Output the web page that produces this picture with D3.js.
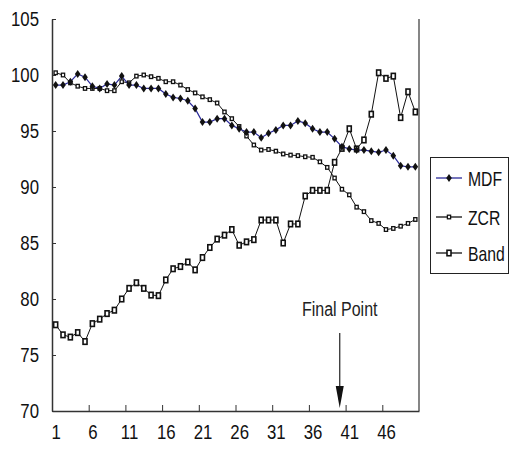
<!DOCTYPE html>
<html><head><meta charset="utf-8">
<script src="https://cdn.jsdelivr.net/npm/d3@7"></script>
<style>
html,body{margin:0;padding:0;background:#fff;}
svg{display:block;}
text{font-family:"Liberation Sans",Arial,sans-serif;}
</style></head>
<body>
<script>
const categories = d3.range(1, 51);
const mdf = [99.1,99.1,99.4,100.1,99.8,99.0,98.8,99.2,99.1,99.9,
             99.1,99.1,98.8,98.8,98.8,98.3,98.0,97.9,97.7,97.0,
             95.8,95.8,96.1,96.1,95.5,95.2,94.9,94.9,94.4,94.8,
             95.1,95.5,95.5,95.9,95.7,95.2,94.9,94.9,94.3,93.6,
             93.4,93.3,93.3,93.2,93.1,93.3,92.8,91.9,91.8,91.8];
const zcr = [100.2,100.0,99.3,99.0,98.8,98.8,98.8,98.6,98.6,99.4,
             99.3,99.9,100.0,99.85,99.7,99.4,99.4,99.1,98.7,98.4,
             98.05,97.8,97.5,96.7,96.1,95.4,94.55,93.75,93.3,93.35,
             93.2,92.95,92.85,92.8,92.7,92.65,92.25,91.75,90.8,89.8,
             89.3,88.2,87.8,87.0,86.75,86.2,86.3,86.5,86.75,87.1];
const band = [77.7,76.8,76.6,77.0,76.2,77.8,78.2,78.7,79.0,80.0,
              80.95,81.45,80.95,80.35,80.3,81.7,82.7,82.9,83.3,82.6,
              83.7,84.6,85.35,85.7,86.2,84.8,85.1,85.3,87.05,87.05,
              87.05,85.0,86.7,86.7,89.2,89.7,89.7,89.7,92.2,93.45,
              95.2,93.4,94.2,96.5,100.2,99.7,99.9,96.2,98.5,96.7];
const yTicks = [70,75,80,85,90,95,100,105];
const xTickLabels = [1,6,11,16,21,26,31,36,41,46];
const xTickMarks = [5.5,10.5,15.5,20.5,25.5,30.5,35.5,40.5,45.5];
const seriesNames = ["MDF","ZCR","Band"];
const finalPoint = 39.7;
const finalLabel = "Final Point";

const W = 510, H = 465;
const SX = 0.8;
const svg = d3.select("body").append("svg").attr("width", W).attr("height", H);
svg.append("rect").attr("width", W).attr("height", H).attr("fill", "#fff");

const x = d3.scaleLinear().domain([0.5, 50.5]).range([52, 419]);
const y = d3.scaleLinear().domain([70, 105]).range([411, 19]);

function narrow(sel, sx) {
  sel.each(function () {
    const t = d3.select(this);
    const xv = +(t.attr("x") || 0);
    t.attr("x", xv / sx).attr("transform", `scale(${sx},1)`);
  });
}
function ntext(parent, tx, ty, str, size, sx, anchor) {
  const g = parent.append("g").attr("transform", `translate(${tx},${ty}) scale(${sx},1)`);
  return g.append("text").attr("text-anchor", anchor || "start").attr("font-size", size)
    .attr("fill", "#111").text(str);
}

// right border of plot area
svg.append("line").attr("x1", x(50.5)).attr("x2", x(50.5)).attr("y1", y(105)).attr("y2", y(70))
  .attr("stroke", "#444").attr("stroke-width", 1.3);

// Y axis
const yAx = svg.append("g").attr("transform", "translate(52,0)")
  .call(d3.axisLeft(y).tickValues(yTicks).tickSize(-4).tickPadding(13).tickSizeOuter(0));
yAx.select(".domain").attr("stroke", "#333").attr("stroke-width", 1.5);
yAx.selectAll(".tick line").attr("stroke", "#333");
yAx.selectAll("text").attr("font-size", 21).attr("fill", "#111").attr("font-family", null);
narrow(yAx.selectAll("text"), SX);

// X axis ticks
const xAx = svg.append("g").attr("transform", "translate(0,411)")
  .call(d3.axisBottom(x).tickValues(xTickMarks).tickSize(-6).tickFormat("").tickSizeOuter(0));
xAx.select(".domain").attr("stroke", "#333").attr("stroke-width", 1.5);
xAx.selectAll(".tick line").attr("stroke", "#333");
// X labels
const xLab = svg.append("g").attr("transform", "translate(0,411)")
  .call(d3.axisBottom(x).tickValues(xTickLabels).tickSize(0).tickPadding(13).tickFormat(d3.format("d")));
xLab.select(".domain").remove();
xLab.selectAll("text").attr("font-size", 21).attr("fill", "#111").attr("font-family", null);
narrow(xLab.selectAll("text"), SX);

const line = d3.line().x((d, i) => x(categories[i])).y(d => y(d));

svg.append("path").datum(band).attr("d", line).attr("fill", "none").attr("stroke", "#111").attr("stroke-width", 1);
svg.append("path").datum(zcr).attr("d", line).attr("fill", "none").attr("stroke", "#111").attr("stroke-width", 1);
svg.append("path").datum(mdf).attr("d", line).attr("fill", "none").attr("stroke", "#2a2a9a").attr("stroke-width", 1.2);

function diamond(g, cx, cy) {
  g.append("path").attr("d", `M${cx},${cy-4}L${cx+2.8},${cy}L${cx},${cy+4}L${cx-2.8},${cy}Z`).attr("fill", "#111");
}
function square(g, cx, cy, w, h, sw) {
  g.append("rect").attr("x", cx - w/2).attr("y", cy - h/2).attr("width", w).attr("height", h)
    .attr("fill", "#fff").attr("stroke", "#111").attr("stroke-width", sw);
}
const gB = svg.append("g");
band.forEach((d, i) => square(gB, x(categories[i]), y(d), 4, 5.5, 1.6));
const gZ = svg.append("g");
zcr.forEach((d, i) => square(gZ, x(categories[i]), y(d), 3.2, 3.6, 1.3));
const gM = svg.append("g");
mdf.forEach((d, i) => diamond(gM, x(categories[i]), y(d)));

// Final Point annotation
const fx = x(finalPoint);
ntext(svg, fx, 316, finalLabel, 20, SX, "middle").attr("fill", "#222");
svg.append("line").attr("x1", fx).attr("x2", fx).attr("y1", 333).attr("y2", 392)
  .attr("stroke", "#333").attr("stroke-width", 1.3);
svg.append("path").attr("d", `M${fx-4},${386}L${fx+4},${386}L${fx},${408}Z`).attr("fill", "#111");

// Legend
const lg = svg.append("g").attr("transform", "translate(430,157)");
lg.append("rect").attr("x", 0.5).attr("y", 0.5).attr("width", 78).attr("height", 116)
  .attr("fill", "#fff").attr("stroke", "#222").attr("stroke-width", 1);
const rowsY = [21, 60, 96];
seriesNames.forEach((name, i) => {
  const ry = rowsY[i];
  lg.append("line").attr("x1", 6).attr("x2", 32).attr("y1", ry).attr("y2", ry)
    .attr("stroke", i === 0 ? "#2a2a9a" : "#111").attr("stroke-width", 1.3);
  if (i === 0) diamond(lg, 19, ry);
  else if (i === 1) square(lg, 19, ry, 3.2, 3.6, 1.3);
  else square(lg, 19, ry, 4, 5.5, 1.6);
  ntext(lg, 38, ry + 7.5, name, 21, 0.75, "start");
});
</script>
</body></html>
